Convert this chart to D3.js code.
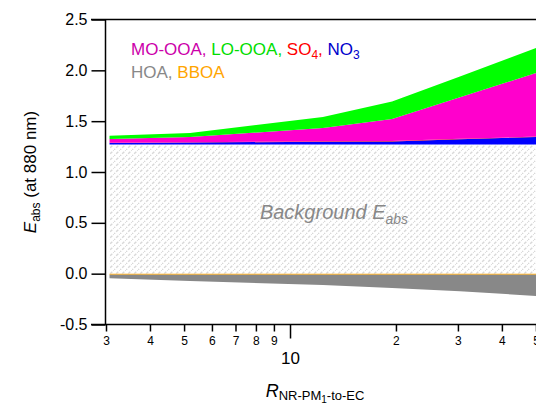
<!DOCTYPE html>
<html>
<head>
<meta charset="utf-8">
<script src="https://cdn.jsdelivr.net/npm/d3@7"></script>
<style>
  body { margin: 0; background: #fff; }
  svg { font-family: Arial, "Liberation Sans", sans-serif; }
</style>
</head>
<body>
<svg width="536" height="405"></svg>
<script>
// ratio values (x axis, log)
const ratio = [3.07, 5.2, 12.4, 19.5, 30.4, 50];
// contributions to Eabs
const background = [1.27, 1.27, 1.27, 1.27, 1.27, 1.27];
const no3 = [0.015, 0.02, 0.028, 0.03, 0.052, 0.074];
const so4 = [0.003, 0.003, 0.004, 0.004, 0.004, 0.004];
const moOoa = [0.036, 0.051, 0.131, 0.217, 0.41, 0.625];
const loOoa = [0.033, 0.039, 0.108, 0.173, 0.204, 0.246];
const bboa = [-0.01, -0.01, -0.01, -0.01, -0.01, -0.01];
const hoa = [-0.036, -0.062, -0.102, -0.132, -0.162, -0.209];

const yTicks = [-0.5, 0.0, 0.5, 1.0, 1.5, 2.0, 2.5];
const xTicks = [3, 4, 5, 6, 7, 8, 9, 10, 20, 30, 40, 50];

const keys = ['bg', 'no3', 'so4', 'mo', 'lo', 'bboa', 'hoa'];
const colors = {bg: 'url(#hatch)', no3: '#0000ff', so4: '#ff0000', mo: '#ff00cc', lo: '#00ff00', bboa: '#ffa500', hoa: '#888888'};

const table = ratio.map((r, i) => ({
  r: r, bg: background[i], no3: no3[i], so4: so4[i], mo: moOoa[i], lo: loOoa[i], bboa: bboa[i], hoa: hoa[i]
}));

const svg = d3.select('svg');

const x = d3.scaleLog().domain([3, 50]).range([106, 536]);
const y = d3.scaleLinear().domain([-0.5, 2.5]).range([324.5, 19.5]);

// hatch for the background part
const pat = svg.append('defs').append('pattern')
    .attr('id', 'hatch')
    .attr('patternUnits', 'userSpaceOnUse')
    .attr('width', 6)
    .attr('height', 6);
pat.append('rect').attr('width', 6).attr('height', 6).attr('fill', '#fff');
pat.append('path')
    .attr('d', 'M-1,7 L7,-1')
    .attr('stroke', '#d8d8d8')
    .attr('stroke-width', 1.4)
    .attr('stroke-dasharray', '3,1.5');

const stack = d3.stack()
    .keys(keys)
    .offset(d3.stackOffsetDiverging);
const layers = stack(table);

const area = d3.area()
    .x((d) => x(d.data.r))
    .y0((d) => y(d[0]))
    .y1((d) => y(d[1]));

svg.append('g').selectAll('path')
    .data(layers)
    .enter()
    .append('path')
    .attr('d', area)
    .attr('fill', (l) => colors[l.key]);

// axes
const fmt = (d) => d3.format('.1f')(d).replace('\u2212', '-');
const yAxis = svg.append('g')
    .attr('transform', 'translate(105.5,0)')
    .call(d3.axisLeft(y).tickValues(yTicks).tickFormat(fmt).tickSize(14).tickPadding(4));
yAxis.selectAll('text').attr('font-size', 16).attr('fill', '#000');
yAxis.select('.domain').attr('d', 'M0,19.5V324.5').attr('stroke-width', 1.5);
yAxis.selectAll('line').attr('stroke-width', 1.5);

const xAxis = svg.append('g')
    .attr('transform', 'translate(0,324.5)')
    .call(d3.axisBottom(x).tickValues(xTicks).tickSize(7).tickPadding(5)
      .tickFormat((d) => d === 10 ? '' : String(d >= 10 ? d / 10 : d)));
xAxis.selectAll('text').attr('font-size', 12).attr('fill', '#000');
xAxis.select('.domain').attr('d', 'M91,0H536').attr('stroke-width', 1.5);
xAxis.selectAll('line').attr('stroke-width', 1.5)
    .attr('y2', (d) => d === 10 ? 14 : 7);
xAxis.selectAll('.tick').filter((d) => d === 10)
    .append('text')
    .attr('y', 39)
    .attr('fill', '#000')
    .attr('font-size', 17)
    .attr('text-anchor', 'middle')
    .text('10');

// top frame
svg.append('line')
    .attr('x1', 91).attr('x2', 536)
    .attr('y1', 19.5).attr('y2', 19.5)
    .attr('stroke', '#000').attr('stroke-width', 1.5);

// background label
const bgLabel = svg.append('text')
    .attr('x', 334).attr('y', 219)
    .attr('text-anchor', 'middle')
    .attr('font-size', 20)
    .attr('font-style', 'italic')
    .attr('fill', '#888');
bgLabel.append('tspan').text('Background E');
bgLabel.append('tspan').attr('dy', 5).attr('font-size', 14).text('abs');

// legend text
const leg1 = svg.append('text').attr('x', 131).attr('y', 55).attr('font-size', 17);
leg1.append('tspan').attr('fill', '#cc00aa').text('MO-OOA, ');
leg1.append('tspan').attr('fill', '#00dd00').text('LO-OOA, ');
leg1.append('tspan').attr('fill', '#ff0000').text('SO');
leg1.append('tspan').attr('fill', '#ff0000').attr('dy', 4).attr('font-size', 12).text('4');
leg1.append('tspan').attr('fill', '#ff0000').attr('dy', -4).text(', ');
leg1.append('tspan').attr('fill', '#0000cc').text('NO');
leg1.append('tspan').attr('fill', '#0000cc').attr('dy', 4).attr('font-size', 12).text('3');

const leg2 = svg.append('text').attr('x', 131).attr('y', 78).attr('font-size', 17);
leg2.append('tspan').attr('fill', '#888').text('HOA, ');
leg2.append('tspan').attr('fill', '#ffa500').text('BBOA');

// axis titles
const xTitle = svg.append('text')
    .attr('x', 315).attr('y', 397)
    .attr('text-anchor', 'middle')
    .attr('font-size', 18);
xTitle.append('tspan').attr('font-style', 'italic').text('R');
xTitle.append('tspan').attr('dy', 3).attr('font-size', 13).text('NR-PM');
xTitle.append('tspan').attr('dy', 3).attr('font-size', 10).text('1');
xTitle.append('tspan').attr('dy', -3).attr('font-size', 13).text('-to-EC');

const yTitle = svg.append('text')
    .attr('transform', 'translate(36,172) rotate(-90)')
    .attr('text-anchor', 'middle')
    .attr('font-size', 17);
yTitle.append('tspan').attr('font-style', 'italic').text('E');
yTitle.append('tspan').attr('dy', 4).attr('font-size', 12).text('abs');
yTitle.append('tspan').attr('dy', -4).text(' (at 880 nm)');
</script>
</body>
</html>
